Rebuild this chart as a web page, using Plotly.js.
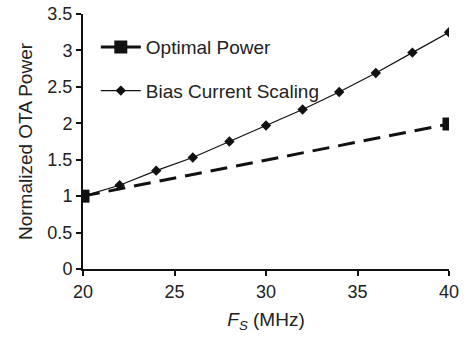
<!DOCTYPE html>
<html>
<head>
<script src="https://cdn.plot.ly/plotly-3.0.1.min.js"></script>
<style>body{margin:0;padding:0;} #chart{width:466px;height:337px;}</style>
</head>
<body>
<div id="chart"></div>
<script>
var optX = [20, 40];
var optY = [1, 1.99];
var biasX = [20, 22, 24, 26, 28, 30, 32, 34, 36, 38, 40];
var biasY = [1, 1.15, 1.35, 1.53, 1.75, 1.97, 2.19, 2.43, 2.69, 2.97, 3.25];
var xTicks = [20, 25, 30, 35, 40];
var yTicks = [0, 0.5, 1, 1.5, 2, 2.5, 3, 3.5];

var traces = [
  {x: optX, y: optY, name: 'Optimal Power', mode: 'lines+markers', legendgroup: 'a',
   line: {color: '#111', width: 3, dash: '17px,9px'},
   marker: {symbol: 'square', size: 13, color: '#111'}},
  {x: biasX, y: biasY, name: 'Bias Current Scaling', mode: 'lines+markers', legendgroup: 'b',
   line: {color: '#111', width: 1.2},
   marker: {symbol: 'diamond', size: 8, color: '#111'}}
];
var layout = {
  width: 466, height: 337,
  margin: {l: 83, r: 17, t: 14, b: 68},
  paper_bgcolor: '#fff', plot_bgcolor: '#fff',
  font: {family: 'Liberation Sans, Arial, sans-serif', size: 18, color: '#222'},
  showlegend: true,
  legend: {x: 0.035, y: 0.945, xanchor: 'left', yanchor: 'top', bgcolor: 'rgba(0,0,0,0)',
           font: {size: 19, color: '#222'}, traceorder: 'grouped', tracegroupgap: 16, itemwidth: 40},
  xaxis: {range: [20, 40], tickvals: xTicks, ticktext: xTicks.map(String), showgrid: false, zeroline: false,
          showline: true, linecolor: '#111', linewidth: 2, ticks: 'outside', ticklen: 5, tickwidth: 1.5, tickcolor: '#111',
          tickfont: {size: 18},
          title: {text: '<i>F<sub>S</sub></i> (MHz)', font: {size: 19}, standoff: 12}},
  yaxis: {range: [0, 3.5], tickvals: yTicks, ticktext: yTicks.map(String), showgrid: false, zeroline: false,
          showline: true, linecolor: '#111', linewidth: 2, ticks: 'outside', ticklen: 5, tickwidth: 1.5, tickcolor: '#111',
          tickfont: {size: 18},
          title: {text: 'Normalized OTA Power', font: {size: 19}, standoff: 10}}
};
Plotly.newPlot('chart', traces, layout, {displayModeBar: false});
</script>
</body>
</html>
